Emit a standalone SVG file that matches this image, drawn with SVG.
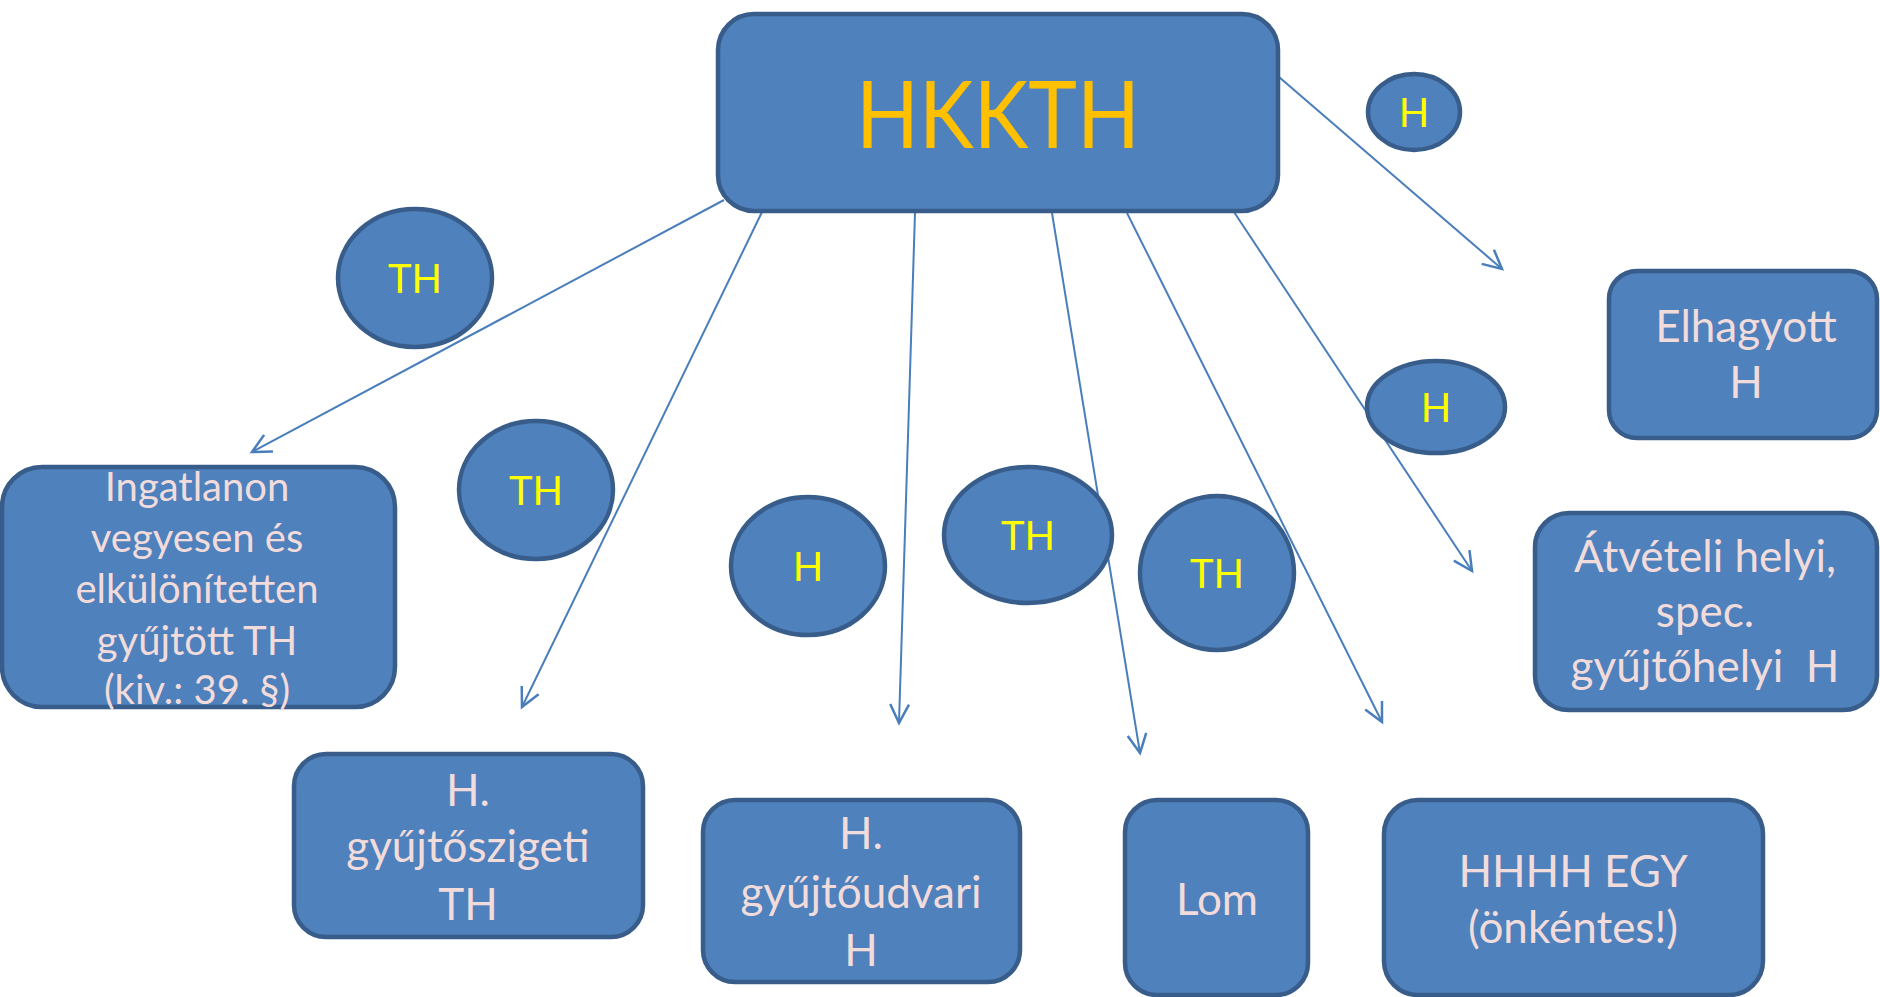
<svg xmlns="http://www.w3.org/2000/svg" width="1880" height="997" viewBox="0 0 1880 997">
<defs>
<style>
.box{fill:#4F81BD;stroke:#385D8A;stroke-width:4.5}
.ell{fill:#4F81BD;stroke:#385D8A;stroke-width:4.5}
.lbl{font-family:Lato,"Liberation Sans",sans-serif;fill:#F2DCDB;text-anchor:middle}
.big{font-size:44px}
.sm{font-size:40px}
.yel{font-family:Lato,"Liberation Sans",sans-serif;fill:#FFFF00;text-anchor:middle;font-size:40px}
.con{stroke:#4A7EBB;stroke-width:2;fill:none}
</style>
<marker id="ah" markerUnits="userSpaceOnUse" markerWidth="30" markerHeight="30" refX="0" refY="0" viewBox="-20 -12 24 24" orient="auto">
<path d="M-15,-7.5 L0,0 L-15,7.5" fill="none" stroke="#4A7EBB" stroke-width="2"/>
</marker>
</defs>
<rect width="1880" height="997" fill="#FFFFFF"/>
<g id="connectors">
<line class="con" x1="724" y1="200" x2="252" y2="452" marker-end="url(#ah)"/>
<line class="con" x1="762" y1="212" x2="522" y2="707" marker-end="url(#ah)"/>
<line class="con" x1="915" y1="213" x2="899" y2="723" marker-end="url(#ah)"/>
<line class="con" x1="1052" y1="213" x2="1140" y2="753" marker-end="url(#ah)"/>
<line class="con" x1="1127" y1="213" x2="1382" y2="722" marker-end="url(#ah)"/>
<line class="con" x1="1234" y1="212" x2="1472" y2="571" marker-end="url(#ah)"/>
<line class="con" x1="1279" y1="77" x2="1502" y2="269" marker-end="url(#ah)"/>
</g>
<g id="hkkth">
<rect class="box" x="718" y="14" width="560" height="197" rx="36"/>
<text x="998" y="148" textLength="284" lengthAdjust="spacingAndGlyphs" style="font-family:Lato,'Liberation Sans',sans-serif;font-size:93px;fill:#FFC000;text-anchor:middle">HKKTH</text>
</g>
<g id="ingatlanon">
<rect class="box" x="2" y="467" width="393" height="240" rx="40"/>
<text class="lbl sm" x="197" y="501">Ingatlanon</text>
<text class="lbl sm" x="197" y="552">vegyesen és</text>
<text class="lbl sm" x="197" y="603">elkülönítetten</text>
<text class="lbl sm" x="197" y="655">gyűjtött TH</text>
<text class="lbl sm" x="197" y="704">(kiv.: 39. §)</text>
</g>
<g id="gyujtosziget">
<rect class="box" x="294" y="754" width="349" height="183" rx="32"/>
<text class="lbl big" x="468" y="806">H.</text>
<text class="lbl big" x="468" y="862">gyűjtőszigeti</text>
<text class="lbl big" x="468" y="920">TH</text>
</g>
<g id="gyujtoudvar">
<rect class="box" x="703" y="800" width="317" height="182" rx="32"/>
<text class="lbl big" x="861" y="849">H.</text>
<text class="lbl big" x="861" y="908">gyűjtőudvari</text>
<text class="lbl big" x="861" y="966">H</text>
</g>
<g id="lom">
<rect class="box" x="1125" y="800" width="183" height="195" rx="32"/>
<text class="lbl big" x="1217" y="915">Lom</text>
</g>
<g id="hhhh">
<rect class="box" x="1384" y="800" width="379" height="195" rx="34"/>
<text class="lbl big" x="1573" y="887">HHHH EGY</text>
<text class="lbl big" x="1573" y="943">(önkéntes!)</text>
</g>
<g id="elhagyott">
<rect class="box" x="1609" y="271" width="268" height="167" rx="28"/>
<text class="lbl big" x="1746" y="342">Elhagyott</text>
<text class="lbl big" x="1746" y="398">H</text>
</g>
<g id="atveteli">
<rect class="box" x="1535" y="513" width="342" height="197" rx="34"/>
<text class="lbl big" x="1705" y="572">Átvételi helyi,</text>
<text class="lbl big" x="1705" y="627">spec.</text>
<text class="lbl big" x="1705" y="682" xml:space="preserve">gyűjtőhelyi  H</text>
</g>
<g id="e-th1">
<ellipse class="ell" cx="415" cy="278" rx="77" ry="69"/>
<text class="yel" x="415" y="293">TH</text>
</g>
<g id="e-th2">
<ellipse class="ell" cx="536" cy="490" rx="77" ry="69"/>
<text class="yel" x="536" y="505">TH</text>
</g>
<g id="e-h1">
<ellipse class="ell" cx="808" cy="566" rx="77" ry="69"/>
<text class="yel" x="808" y="581">H</text>
</g>
<g id="e-th3">
<ellipse class="ell" cx="1028" cy="535" rx="84" ry="68"/>
<text class="yel" x="1028" y="550">TH</text>
</g>
<g id="e-th4">
<ellipse class="ell" cx="1217" cy="573" rx="77" ry="77"/>
<text class="yel" x="1217" y="588">TH</text>
</g>
<g id="e-h2">
<ellipse class="ell" cx="1414" cy="112" rx="46" ry="38"/>
<text class="yel" x="1414" y="127">H</text>
</g>
<g id="e-h3">
<ellipse class="ell" cx="1436" cy="407" rx="69" ry="46"/>
<text class="yel" x="1436" y="422">H</text>
</g>
</svg>
